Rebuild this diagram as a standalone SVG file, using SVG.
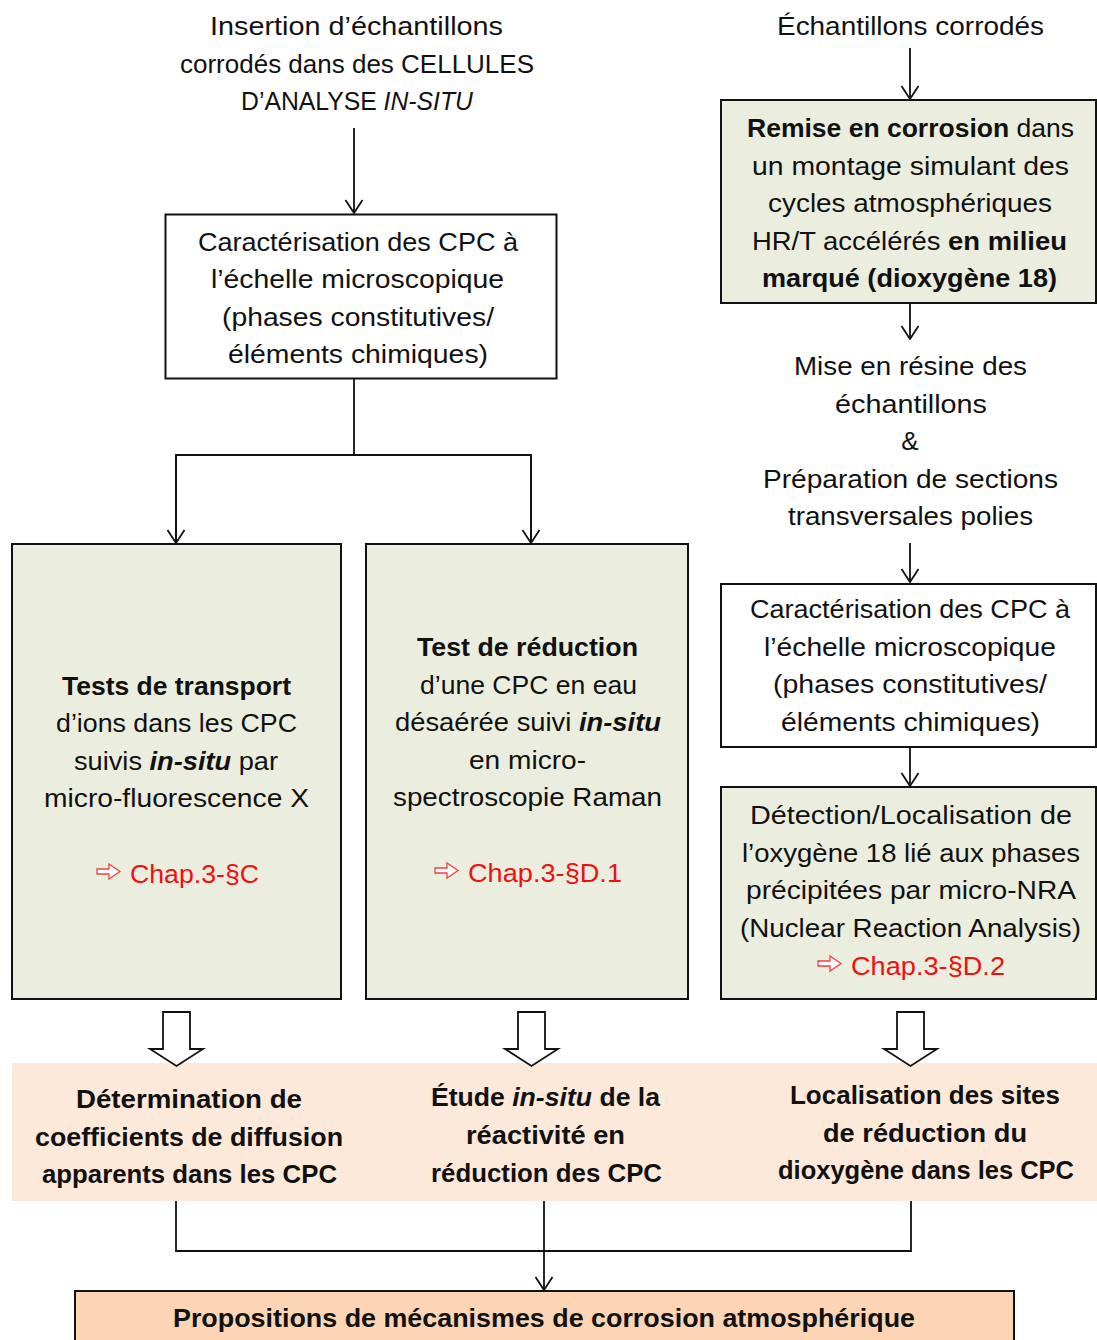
<svg xmlns="http://www.w3.org/2000/svg" width="1097" height="1340" viewBox="0 0 1097 1340">
<style>
text{font-family:"Liberation Sans",Arial,sans-serif;font-size:26px;fill:#111}
.b{font-weight:bold}
.i{font-style:italic}
.red{fill:#f01010}
.arw{fill:#fff;stroke:#f04040;stroke-width:1.3}
.box{stroke:#111;stroke-width:2}
.white{fill:#fff}
.green{fill:#EBEEDE}
.con{stroke:#111;stroke-width:1.8;fill:none}
.hol{fill:#fff;stroke:#111;stroke-width:1.8;stroke-linejoin:miter}
</style>
<defs>
<marker id="ah" markerUnits="userSpaceOnUse" viewBox="0 0 15 20" refX="14" refY="10" markerWidth="15" markerHeight="20" orient="auto">
<path d="M1,1.5 L14,10 L1,18.5" fill="none" stroke="#111" stroke-width="1.8"/>
</marker>
<polygon id="redarrow" class="arw" points="0,5 12,5 12,0 23,7.5 12,15 12,10 0,10"/>
</defs>
<rect width="1097" height="1340" fill="#fff"/>

<g id="band">
<rect x="12" y="1063" width="1085" height="138" fill="#FDE9D9"/>
</g>

<g id="connectors">
<line class="con" x1="354" y1="128" x2="354" y2="213" marker-end="url(#ah)"/>
<polyline class="con" points="354,379 354,455"/>
<polyline class="con" points="176,543 176,455 531,455 531,543"/>
<line class="con" x1="176" y1="455" x2="176" y2="543" marker-end="url(#ah)"/>
<line class="con" x1="531" y1="455" x2="531" y2="543" marker-end="url(#ah)"/>
<line class="con" x1="910" y1="48" x2="910" y2="99" marker-end="url(#ah)"/>
<line class="con" x1="910" y1="304" x2="910" y2="339" marker-end="url(#ah)"/>
<line class="con" x1="910" y1="543" x2="910" y2="582" marker-end="url(#ah)"/>
<line class="con" x1="910" y1="748" x2="910" y2="786" marker-end="url(#ah)"/>
<polygon class="hol" points="163,1012 190,1012 190,1049 203,1049 176.5,1066 150,1049 163,1049"/>
<polygon class="hol" points="518,1012 545,1012 545,1049 558,1049 531.5,1066 505,1049 518,1049"/>
<polygon class="hol" points="897,1012 924,1012 924,1049 937,1049 910.5,1066 884,1049 897,1049"/>
<polyline class="con" points="176,1201 176,1251 911,1251 911,1201"/>
<line class="con" x1="544" y1="1201" x2="544" y2="1290" marker-end="url(#ah)"/>
</g>

<g id="n-insertion">
<text x="210" y="35" textLength="293" lengthAdjust="spacingAndGlyphs">Insertion d’échantillons</text>
<text x="180" y="73" textLength="354" lengthAdjust="spacingAndGlyphs">corrodés dans des CELLULES</text>
<text x="241" y="110" textLength="232" lengthAdjust="spacingAndGlyphs">D’ANALYSE <tspan class="i">IN-SITU</tspan></text>
</g>

<g id="n-carac1">
<rect class="box white" x="165.5" y="214.5" width="391" height="164"/>
<text x="198" y="251" textLength="320" lengthAdjust="spacingAndGlyphs">Caractérisation des CPC à</text>
<text x="211" y="288" textLength="293" lengthAdjust="spacingAndGlyphs">l’échelle microscopique</text>
<text x="222" y="326" textLength="272" lengthAdjust="spacingAndGlyphs">(phases constitutives/</text>
<text x="228" y="363" textLength="260" lengthAdjust="spacingAndGlyphs">éléments chimiques)</text>
</g>

<g id="n-transport">
<rect class="box green" x="12" y="544" width="329" height="455"/>
<text class="b" x="62" y="695" textLength="229" lengthAdjust="spacingAndGlyphs">Tests de transport</text>
<text x="56" y="732" textLength="241" lengthAdjust="spacingAndGlyphs">d’ions dans les CPC</text>
<text x="74" y="770" textLength="204" lengthAdjust="spacingAndGlyphs">suivis <tspan class="b i">in-situ</tspan> par</text>
<text x="44" y="807" textLength="265" lengthAdjust="spacingAndGlyphs">micro-fluorescence X</text>
<use href="#redarrow" x="97" y="864"/>
<text class="red" x="130" y="883" textLength="129" lengthAdjust="spacingAndGlyphs">Chap.3-§C</text>
</g>

<g id="n-reduction">
<rect class="box green" x="366" y="544" width="322" height="455"/>
<text class="b" x="417" y="656" textLength="221" lengthAdjust="spacingAndGlyphs">Test de réduction</text>
<text x="420" y="694" textLength="217" lengthAdjust="spacingAndGlyphs">d’une CPC en eau</text>
<text x="395" y="731" textLength="266" lengthAdjust="spacingAndGlyphs">désaérée suivi <tspan class="b i">in-situ</tspan></text>
<text x="469" y="769" textLength="117" lengthAdjust="spacingAndGlyphs">en micro-</text>
<text x="393" y="806" textLength="269" lengthAdjust="spacingAndGlyphs">spectroscopie Raman</text>
<use href="#redarrow" x="435" y="863"/>
<text class="red" x="468" y="882" textLength="154" lengthAdjust="spacingAndGlyphs">Chap.3-§D.1</text>
</g>

<g id="n-echantillons">
<text x="777" y="35" textLength="267" lengthAdjust="spacingAndGlyphs">Échantillons corrodés</text>
</g>

<g id="n-remise">
<rect class="box green" x="721" y="100" width="375" height="203"/>
<text x="747" y="137" textLength="327" lengthAdjust="spacingAndGlyphs"><tspan class="b">Remise en corrosion</tspan> dans</text>
<text x="752" y="175" textLength="317" lengthAdjust="spacingAndGlyphs">un montage simulant des</text>
<text x="768" y="212" textLength="284" lengthAdjust="spacingAndGlyphs">cycles atmosphériques</text>
<text x="752" y="250" textLength="315" lengthAdjust="spacingAndGlyphs">HR/T accélérés <tspan class="b">en milieu</tspan></text>
<text class="b" x="762" y="287" textLength="295" lengthAdjust="spacingAndGlyphs">marqué (dioxygène 18)</text>
</g>

<g id="n-resine">
<text x="794" y="375" textLength="233" lengthAdjust="spacingAndGlyphs">Mise en résine des</text>
<text x="835" y="413" textLength="152" lengthAdjust="spacingAndGlyphs">échantillons</text>
<text x="910" y="450" text-anchor="middle">&amp;</text>
<text x="763" y="488" textLength="295" lengthAdjust="spacingAndGlyphs">Préparation de sections</text>
<text x="788" y="525" textLength="245" lengthAdjust="spacingAndGlyphs">transversales polies</text>
</g>

<g id="n-carac2">
<rect class="box white" x="721" y="584" width="375" height="163"/>
<text x="750" y="618" textLength="320" lengthAdjust="spacingAndGlyphs">Caractérisation des CPC à</text>
<text x="764" y="656" textLength="292" lengthAdjust="spacingAndGlyphs">l’échelle microscopique</text>
<text x="773" y="693" textLength="274" lengthAdjust="spacingAndGlyphs">(phases constitutives/</text>
<text x="781" y="731" textLength="259" lengthAdjust="spacingAndGlyphs">éléments chimiques)</text>
</g>

<g id="n-detection">
<rect class="box green" x="721" y="787" width="375" height="212"/>
<text x="750" y="824" textLength="322" lengthAdjust="spacingAndGlyphs">Détection/Localisation de</text>
<text x="742" y="862" textLength="338" lengthAdjust="spacingAndGlyphs">l’oxygène 18 lié aux phases</text>
<text x="746" y="899" textLength="330" lengthAdjust="spacingAndGlyphs">précipitées par micro-NRA</text>
<text x="740" y="937" textLength="341" lengthAdjust="spacingAndGlyphs">(Nuclear Reaction Analysis)</text>
<use href="#redarrow" x="818" y="956"/>
<text class="red" x="851" y="975" textLength="154" lengthAdjust="spacingAndGlyphs">Chap.3-§D.2</text>
</g>

<g id="n-diffusion">
<text class="b" x="76" y="1108" textLength="226" lengthAdjust="spacingAndGlyphs">Détermination de</text>
<text class="b" x="35" y="1146" textLength="308" lengthAdjust="spacingAndGlyphs">coefficients de diffusion</text>
<text class="b" x="42" y="1183" textLength="295" lengthAdjust="spacingAndGlyphs">apparents dans les CPC</text>
</g>

<g id="n-etude">
<text class="b" x="431" y="1106" textLength="229" lengthAdjust="spacingAndGlyphs">Étude <tspan class="i">in-situ</tspan> de la</text>
<text class="b" x="466" y="1144" textLength="159" lengthAdjust="spacingAndGlyphs">réactivité en</text>
<text class="b" x="431" y="1182" textLength="231" lengthAdjust="spacingAndGlyphs">réduction des CPC</text>
</g>

<g id="n-localisation">
<text class="b" x="790" y="1104" textLength="270" lengthAdjust="spacingAndGlyphs">Localisation des sites</text>
<text class="b" x="823" y="1142" textLength="204" lengthAdjust="spacingAndGlyphs">de réduction du</text>
<text class="b" x="778" y="1179" textLength="296" lengthAdjust="spacingAndGlyphs">dioxygène dans les CPC</text>
</g>

<g id="n-propositions">
<rect class="box" fill="#FCD5B5" x="75" y="1291" width="939" height="60"/>
<text class="b" x="173" y="1327" textLength="742" lengthAdjust="spacingAndGlyphs">Propositions de mécanismes de corrosion atmosphérique</text>
</g>
</svg>
